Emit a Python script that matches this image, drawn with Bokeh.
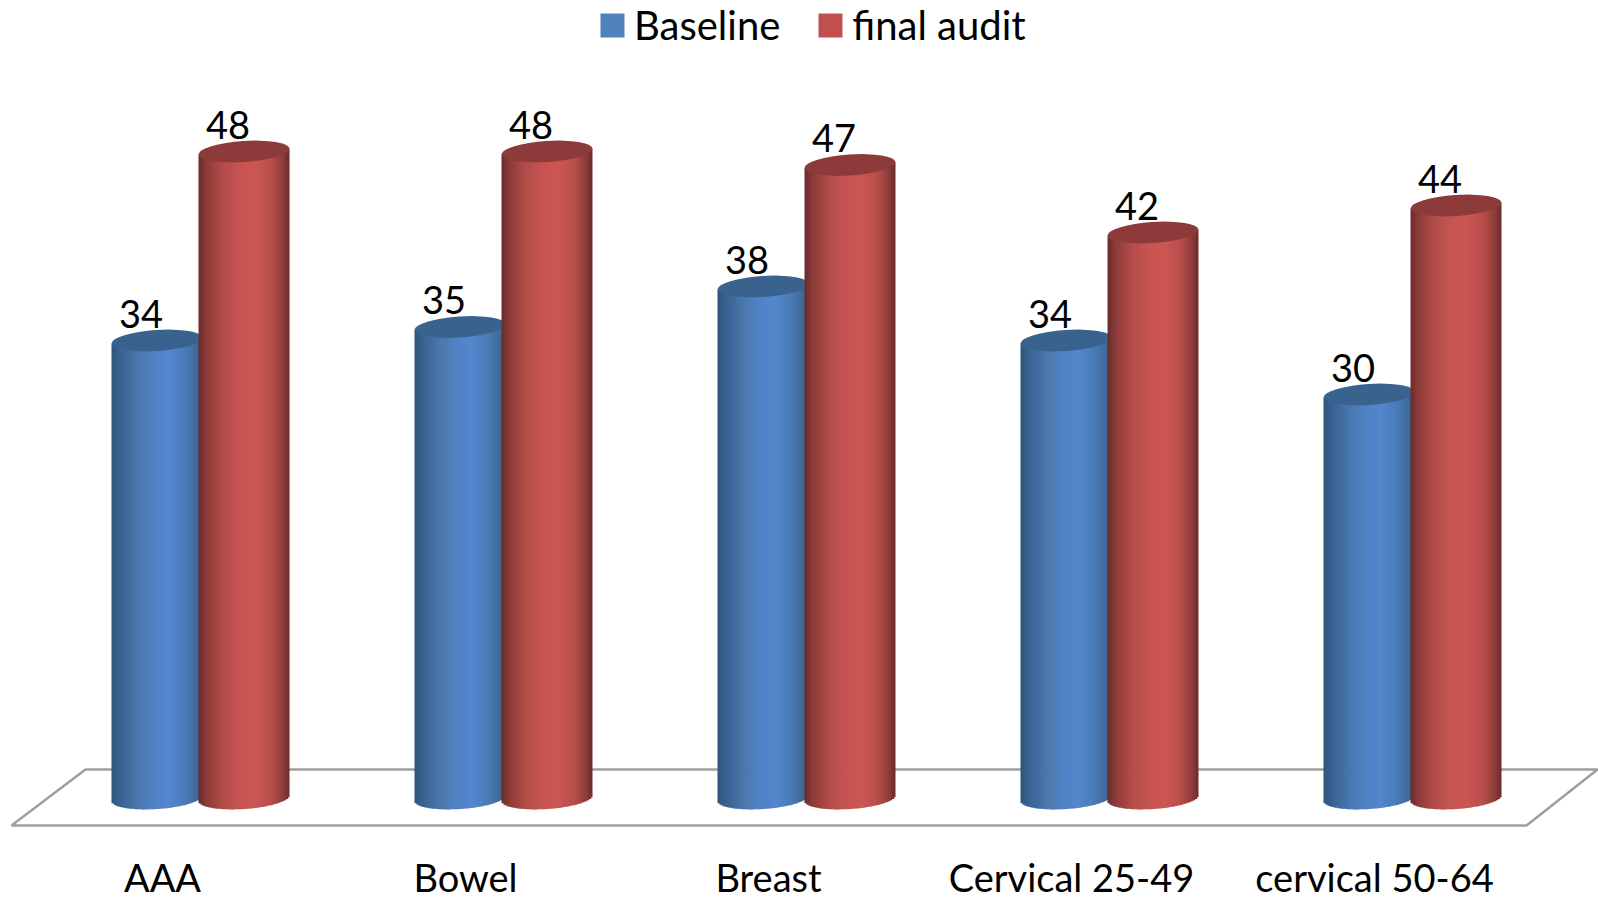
import numpy as np
from bokeh.plotting import figure
from bokeh.models import Range1d, Legend, LegendItem
from bokeh.core.properties import value
from bokeh.embed import file_html
from bokeh.resources import INLINE

categories = ["AAA", "Bowel", "Breast", "Cervical 25-49", "cervical 50-64"]
baseline = [34, 35, 38, 34, 30]
final_audit = [48, 48, 47, 42, 44]

FONT = "Lato"
W, H = 1598, 899
PX_X = 303.0   # pixels per category
PX_Y = 13.5    # pixels per value unit
X0 = 200.0     # px of first group's centre
Y0 = 799.0     # px of value 0

def ux(px): return px / PX_X
def uy(px): return px / PX_Y

p = figure(width=W, height=H, output_backend="svg", toolbar_location=None,
           x_range=Range1d(-X0 / PX_X, (W - X0) / PX_X),
           y_range=Range1d(-(H - Y0) / PX_Y, Y0 / PX_Y),
           min_border=0, outline_line_color=None,
           background_fill_color="white", border_fill_color="white")
p.grid.visible = False
p.xaxis.visible = False
p.yaxis.visible = False

# floor plate
fl, tip = ux(11 - X0), ux(1597 - X0)
bl, br = ux(85 - X0), ux(1526 - X0)
back, front = uy(Y0 - 769), uy(Y0 - 825)
p.line([fl, bl, tip, br, fl], [front, back, back, front, front],
       line_color="#9f9f9f", line_width=2.5, line_join="miter")

STOPS = [0.0, 0.08, 0.25, 0.45, 0.62, 0.8, 0.93, 1.0]
BLUE = ["#2e5477", "#38618f", "#4673a8", "#4f81c2", "#5288cf", "#4b7cb8", "#3f6a9b", "#365c86"]
RED = ["#672b2a", "#8a3b39", "#b04a47", "#c65351", "#cd5654", "#b84e4b", "#8d3c3a", "#6a2c2b"]
BLUE_CAP = "#3a628f"
RED_CAP = "#8d3b3a"
CYL = 91.0
HALF = CYL / 2
MINOR = 21.0
TILT = 6.0 / CYL
N = 46

def rgb(h): return [int(h[i:i + 2], 16) for i in (1, 3, 5)]

def shades(stops):
    a = np.array([rgb(c) for c in stops], float)
    t = (np.arange(N) + 0.5) / N
    return ["#%02x%02x%02x" % tuple(int(round(np.interp(v, STOPS, a[:, k]))) for k in range(3)) for v in t]

def cylinder(cx_px, v, stops, cap):
    cols = shades(stops)
    edges = np.linspace(-HALF, HALF, N + 1)
    L, R, T, B = [], [], [], []
    for j in range(N):
        u0, u1 = edges[j], edges[j + 1]
        m = (u0 + u1) / 2
        L.append(ux(cx_px + u0))
        R.append(ux(cx_px + min(u1 + 0.7, HALF)))
        T.append(v + uy(TILT * m))
        B.append(uy(1.5 + TILT * m - (MINOR / 2 + 0.5) * np.sqrt(max(0, 1 - (m / HALF) ** 2))))
    p.quad(left=L, right=R, top=T, bottom=B, fill_color=cols, line_color=None)
    p.ellipse(x=[ux(cx_px)], y=[v], width=ux(CYL), height=uy(MINOR), angle=np.arctan(TILT),
              fill_color=cap, line_color=None)

OFF = 43.5
for g in range(len(categories)):
    cylinder(g * PX_X - OFF, baseline[g], BLUE, BLUE_CAP)
    cylinder(g * PX_X + OFF, final_audit[g], RED, RED_CAP)

xs_b = [i + ux(-OFF) for i in range(len(categories))]
xs_r = [i + ux(OFF) for i in range(len(categories))]
for xs, vals in ((xs_b, baseline), (xs_r, final_audit)):
    p.text(x=xs, y=vals, text=[str(v) for v in vals], text_font=value(FONT), text_font_size="38px",
           text_color="black", text_align="center", text_baseline="alphabetic",
           x_offset=-16, y_offset=-27)

# category labels
p.text(x=[i + ux(-38) for i in range(len(categories))], y=[0] * len(categories), text=categories,
       text_font=value(FONT), text_font_size="38px", text_color="black",
       text_align="center", text_baseline="alphabetic", y_offset=77)

nan = float("nan")
r_b = p.quad(left=[nan], right=[nan], top=[nan], bottom=[nan], fill_color="#4f81bd", line_color=None)
r_r = p.quad(left=[nan], right=[nan], top=[nan], bottom=[nan], fill_color="#c0504d", line_color=None)
leg = Legend(items=[LegendItem(label="Baseline", renderers=[r_b]), LegendItem(label="final audit", renderers=[r_r])],
             location=(597, H - 49), orientation="horizontal", background_fill_alpha=0, border_line_color=None,
             glyph_width=30, glyph_height=30, label_text_font=FONT, label_text_font_size="40px",
             label_text_color="black", spacing=35, label_standoff=7, padding=0, margin=0)
p.add_layout(leg, "center")

open("out.html", "w").write(file_html(p, INLINE))
